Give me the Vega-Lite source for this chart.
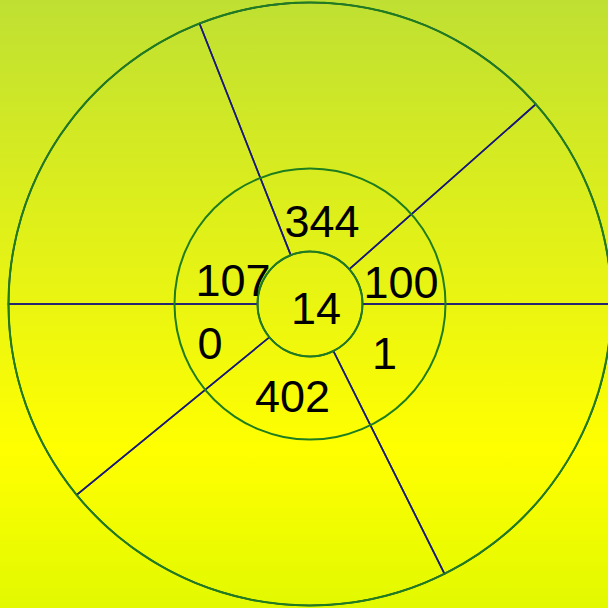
{
  "$schema": "https://vega.github.io/schema/vega-lite/v6.json",
  "width": 608,
  "height": 608,
  "autosize": "none",
  "padding": 0,
  "background": "#e0f010",
  "config": {"view": {"stroke": null}},
  "datasets": {
    "bg": [{"name": "background"}],
    "sectors": [
      {"start": -21.5, "end": 48.5, "r0": 52.5, "r1": 301.5},
      {"start": 48.5, "end": 90, "r0": 52.5, "r1": 301.5},
      {"start": 90, "end": 153.5, "r0": 52.5, "r1": 301.5},
      {"start": 153.5, "end": 230.7, "r0": 52.5, "r1": 301.5},
      {"start": 230.7, "end": 270, "r0": 52.5, "r1": 301.5},
      {"start": 270, "end": 338.5, "r0": 52.5, "r1": 301.5}
    ],
    "circles": [
      {"start": 0, "end": 360, "r": 52.5},
      {"start": 0, "end": 360, "r": 135.5},
      {"start": 0, "end": 360, "r": 301.5}
    ],
    "labels": [
      {"label": "14", "bearing": 135, "r": 8.5},
      {"label": "344", "bearing": 8.4, "r": 81.9},
      {"label": "100", "bearing": 77.6, "r": 93.2},
      {"label": "107", "bearing": 285.9, "r": 80.1},
      {"label": "0", "bearing": 247.7, "r": 108.1},
      {"label": "402", "bearing": 190.5, "r": 95.6},
      {"label": "1", "bearing": 124.5, "r": 90.5}
    ]
  },
  "layer": [
    {
      "data": {"name": "bg"},
      "mark": {
        "type": "rect",
        "color": {
          "gradient": "linear",
          "x1": 0, "y1": 0, "x2": 0, "y2": 1,
          "stops": [
            {"offset": 0, "color": "#bfe033"},
            {"offset": 0.74, "color": "#ffff00"},
            {"offset": 1, "color": "#e2f900"}
          ]
        }
      },
      "encoding": {
        "x": {"value": 0},
        "x2": {"value": "width"},
        "y": {"value": 0},
        "y2": {"value": "height"}
      }
    },
    {
      "data": {"name": "sectors"},
      "mark": {"type": "arc", "filled": false, "fill": null, "stroke": "#191978", "strokeWidth": 1.6, "xOffset": 6},
      "encoding": {
        "theta": {"field": "start", "type": "quantitative", "stack": null, "scale": {"type": "linear", "domain": [0, 360], "range": [0, 6.283185307], "zero": false}},
        "theta2": {"field": "end"},
        "radius": {"field": "r1", "type": "quantitative", "scale": {"type": "linear", "domain": [0, 301.5], "range": [0, 301.5], "zero": true}},
        "radius2": {"field": "r0"}
      }
    },
    {
      "data": {"name": "circles"},
      "mark": {"type": "arc", "color": "#1e7d1e", "radiusOffset": 1, "radius2Offset": -1, "xOffset": 6},
      "encoding": {
        "theta": {"field": "start", "type": "quantitative", "stack": null},
        "theta2": {"field": "end"},
        "radius": {"field": "r", "type": "quantitative"},
        "radius2": {"field": "r"}
      }
    },
    {
      "data": {"name": "labels"},
      "mark": {"type": "text", "font": "Liberation Sans", "fontSize": 45, "color": "#000000", "align": "center", "baseline": "middle", "xOffset": 6},
      "encoding": {
        "theta": {"field": "bearing", "type": "quantitative", "stack": null},
        "radius": {"field": "r", "type": "quantitative"},
        "text": {"field": "label", "type": "nominal"}
      }
    }
  ]
}
